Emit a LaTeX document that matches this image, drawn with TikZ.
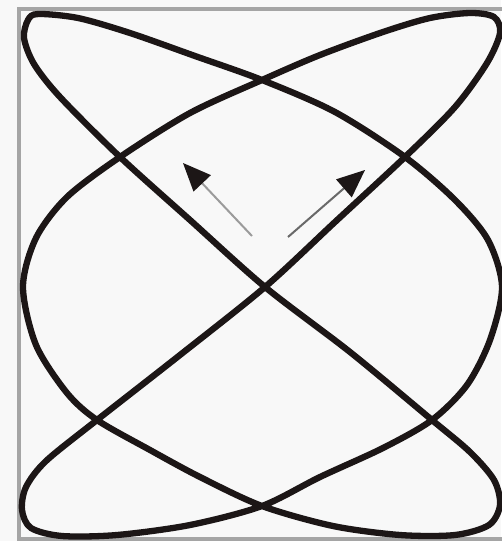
\documentclass[tikz,border=0pt]{standalone}
\usetikzlibrary{arrows.meta}
\definecolor{bg}{RGB}{248,248,248}
\definecolor{framegray}{RGB}{165,165,165}
\definecolor{ink}{RGB}{28,22,22}
\definecolor{shaftlight}{RGB}{155,155,155}
\definecolor{shaftdark}{RGB}{105,105,105}
\begin{document}
\begin{tikzpicture}[x=1pt,y=-1pt,
  curve/.style={draw=ink,line width=6.3pt,line join=round},
  framestyle/.style={draw=framegray,line width=4pt},
  arrowbody/.style={line width=2pt,-{Triangle[length=28pt,width=24pt,color=ink,fill=ink,line width=0pt]}}]
\fill[bg] (0,0) rectangle (501,541);
\useasboundingbox (0,0) rectangle (501,541);
\draw[framestyle] (510,8.5) -- (18.5,8.5) -- (18.5,539) -- (510,539);
\draw[curve] plot[smooth cycle, tension=0.5] coordinates {
 (38,14) (78,18) (130,33) (195,56) (262,80) (335,112) (405,157)
 (455,200) (488,240) (502,287) (490,340) (467,385) (432,420)
 (383,448) (320,477) (262,506) (190,525) (117,535) (62,536)
 (31,528) (22,510) (26,487) (46,461) (97,420) (180,355) (265,287)
 (335,222) (405,157) (455,107) (487,63) (500,33) (494,17) (470,13)
 (430,18) (383,32) (320,55) (262,80) (190,113) (120,157) (67,197)
 (36,238) (23,287) (36,345) (67,393) (97,420) (150,450) (200,477)
 (262,506) (333,526) (400,535) (455,535) (489,525) (500,505)
 (494,480) (470,452) (432,420) (350,352) (265,287) (190,220)
 (120,157) (60,97) (34,64) (24,38) (28,20)};
\coordinate (ltail) at (252,236);
\coordinate (ltip) at (183,163);
\coordinate (rtail) at (288,237);
\coordinate (rtip) at (365,170);
\draw[arrowbody,draw=shaftlight] (ltail) -- (ltip);
\draw[arrowbody,draw=shaftdark] (rtail) -- (rtip);
\end{tikzpicture}
\end{document}
